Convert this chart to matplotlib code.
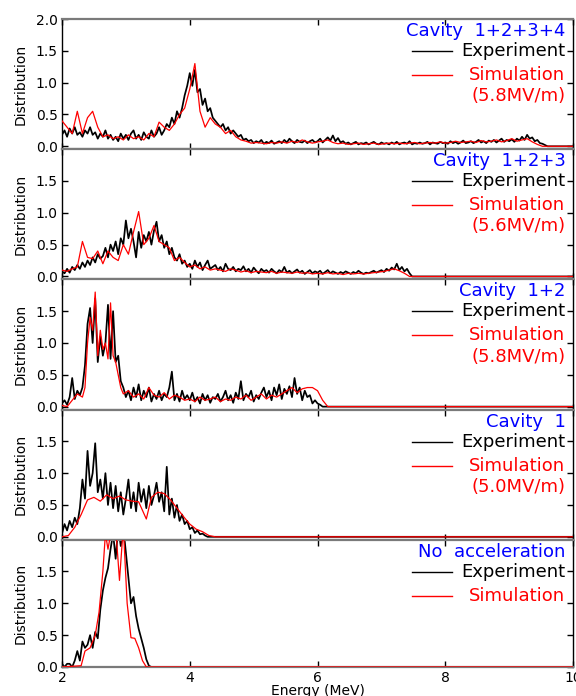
#! /usr/bin/env python3
# -*- coding: utf-8 -*-
"""
    energy spectra after each cavity: experiment vs simulation
"""
import numpy as np
import matplotlib
matplotlib.use("Agg")
import matplotlib.pyplot as plt

# experiment spectra, 0.04 MeV bins starting at 2.0 MeV
exp_start = 2.0
exp_step = 0.04

p1_exp = [0.18, 0.25, 0.15, 0.28, 0.20, 0.30, 0.18, 0.22, 0.15, 0.25,
          0.20, 0.30, 0.18, 0.22, 0.12, 0.20, 0.15, 0.25, 0.12, 0.18,
          0.10, 0.15, 0.08, 0.20, 0.12, 0.18, 0.10, 0.20, 0.25, 0.12,
          0.18, 0.10, 0.22, 0.15, 0.12, 0.25, 0.15, 0.20, 0.30, 0.18,
          0.25, 0.35, 0.30, 0.45, 0.35, 0.55, 0.45, 0.60, 0.80, 0.95,
          1.15, 0.95, 1.20, 0.85, 0.90, 0.65, 0.75, 0.55, 0.60, 0.45,
          0.40, 0.35, 0.30, 0.35, 0.25, 0.30, 0.20, 0.25, 0.20, 0.15,
          0.18, 0.10, 0.12, 0.08, 0.10, 0.05, 0.08, 0.06, 0.10, 0.04,
          0.07, 0.05, 0.09, 0.04, 0.06, 0.08, 0.05, 0.10, 0.06, 0.12,
          0.08, 0.05, 0.10, 0.07, 0.06, 0.09, 0.05, 0.08, 0.10, 0.06,
          0.08, 0.12, 0.06, 0.10, 0.14, 0.09, 0.17, 0.08, 0.13, 0.06,
          0.08, 0.04, 0.06, 0.03, 0.05, 0.07, 0.03, 0.05, 0.04, 0.06,
          0.03, 0.05, 0.07, 0.04, 0.03, 0.06, 0.04, 0.05, 0.03, 0.06,
          0.04, 0.07, 0.03, 0.05, 0.06, 0.04, 0.08, 0.03, 0.05, 0.04,
          0.06, 0.04, 0.05, 0.07, 0.03, 0.06, 0.05, 0.04, 0.07, 0.05,
          0.06, 0.04, 0.08, 0.05, 0.07, 0.04, 0.06, 0.09, 0.05, 0.06,
          0.08, 0.05, 0.07, 0.10, 0.06, 0.08, 0.05, 0.09, 0.07, 0.10,
          0.06, 0.09, 0.12, 0.07, 0.10, 0.08, 0.11, 0.07, 0.12, 0.09,
          0.15, 0.10, 0.18, 0.12, 0.14, 0.08, 0.10, 0.05, 0.04, 0.02]

p2_exp = [0.08, 0.05, 0.12, 0.06, 0.15, 0.10, 0.18, 0.12, 0.22, 0.15,
          0.25, 0.18, 0.30, 0.22, 0.35, 0.28, 0.32, 0.45, 0.30, 0.50,
          0.40, 0.55, 0.35, 0.60, 0.50, 0.88, 0.60, 0.75, 0.55, 0.30,
          0.70, 0.45, 0.65, 0.55, 0.70, 0.50, 0.72, 0.86, 0.55, 0.65,
          0.45, 0.55, 0.35, 0.45, 0.30, 0.25, 0.35, 0.20, 0.25, 0.15,
          0.20, 0.12, 0.25, 0.15, 0.22, 0.10, 0.18, 0.25, 0.12, 0.15,
          0.18, 0.10, 0.15, 0.08, 0.20, 0.12, 0.10, 0.15, 0.08, 0.12,
          0.10, 0.16, 0.08, 0.12, 0.06, 0.14, 0.09, 0.05, 0.12, 0.08,
          0.10, 0.06, 0.12, 0.08, 0.05, 0.10, 0.07, 0.15, 0.06, 0.09,
          0.05, 0.08, 0.11, 0.06, 0.09, 0.04, 0.07, 0.10, 0.05, 0.08,
          0.06, 0.09, 0.04, 0.07, 0.10, 0.05, 0.08, 0.06, 0.04, 0.07,
          0.05, 0.08, 0.06, 0.04, 0.07, 0.05, 0.09, 0.06, 0.04, 0.06,
          0.05, 0.07, 0.09, 0.06, 0.08, 0.10, 0.07, 0.12, 0.09, 0.14,
          0.11, 0.20, 0.10, 0.15, 0.08, 0.12, 0.05]

p3_exp = [0.05, 0.10, 0.03, 0.15, 0.45, 0.12, 0.25, 0.18, 0.30, 0.65,
          1.30, 1.55, 1.00, 1.70, 0.70, 1.10, 0.80, 1.00, 1.60, 0.75,
          1.50, 0.70, 0.80, 0.40, 0.30, 0.15, 0.25, 0.10, 0.30, 0.15,
          0.35, 0.10, 0.25, 0.15, 0.30, 0.08, 0.20, 0.12, 0.25, 0.10,
          0.20, 0.15, 0.30, 0.55, 0.10, 0.20, 0.08, 0.25, 0.12, 0.18,
          0.10, 0.22, 0.08, 0.15, 0.05, 0.20, 0.10, 0.18, 0.06, 0.15,
          0.12, 0.20, 0.08, 0.15, 0.25, 0.10, 0.18, 0.06, 0.22, 0.12,
          0.40, 0.10, 0.20, 0.15, 0.25, 0.08, 0.18, 0.12, 0.22, 0.30,
          0.15, 0.25, 0.10, 0.30, 0.18, 0.35, 0.12, 0.28, 0.20, 0.32,
          0.15, 0.45, 0.20, 0.30, 0.10, 0.25, 0.15, 0.18, 0.05, 0.10,
          0.05, 0.03]

p4_exp = [0.05, 0.20, 0.10, 0.25, 0.15, 0.30, 0.20, 0.45, 0.90, 0.60,
          1.35, 0.80, 1.00, 1.47, 0.70, 0.90, 0.60, 1.00, 0.50, 0.85,
          0.45, 0.80, 0.40, 0.70, 0.35, 0.60, 0.90, 0.45, 0.70, 0.40,
          0.85, 0.55, 0.75, 0.45, 0.80, 0.50, 0.65, 0.85, 0.55, 0.70,
          0.40, 1.10, 0.35, 0.60, 0.30, 0.50, 0.25, 0.35, 0.20, 0.25,
          0.12, 0.15, 0.06, 0.10, 0.04, 0.05, 0.02]

p5_exp = [0.05, 0.00, 0.05, 0.05, 0.00, 0.10, 0.25, 0.10, 0.40, 0.30,
          0.35, 0.50, 0.30, 0.55, 0.45, 0.90, 1.20, 1.40, 1.55, 1.85,
          2.10, 1.70, 2.20, 1.90, 2.20, 1.80, 1.40, 1.00, 1.10, 0.80,
          0.60, 0.45, 0.30, 0.12, 0.02]

# simulation spectra (energy, value)
p1_sim_e = list(np.round(np.arange(2.0, 9.53, 0.08), 2))
p1_sim = [0.40, 0.30, 0.20, 0.55, 0.20, 0.45, 0.55, 0.30, 0.15, 0.18,
          0.12, 0.15, 0.10, 0.18, 0.12, 0.15, 0.10, 0.20, 0.15, 0.38,
          0.30, 0.25, 0.35, 0.50, 0.60, 0.90, 1.30, 0.55, 0.30, 0.45,
          0.35, 0.30, 0.20, 0.25, 0.15, 0.10, 0.08, 0.05, 0.06, 0.05,
          0.04, 0.06, 0.05, 0.07, 0.05, 0.08, 0.06, 0.10, 0.07, 0.05,
          0.07, 0.08, 0.10, 0.06, 0.04, 0.05, 0.03, 0.04, 0.05, 0.03,
          0.04, 0.05, 0.03, 0.04, 0.05, 0.04, 0.05, 0.04, 0.05, 0.06,
          0.04, 0.05, 0.06, 0.05, 0.07, 0.05, 0.06, 0.08, 0.06, 0.07,
          0.08, 0.06, 0.09, 0.07, 0.08, 0.10, 0.07, 0.09, 0.12, 0.08,
          0.10, 0.12, 0.07, 0.03, 0.00]

p2_sim_e = list(np.round(np.arange(2.0, 7.45, 0.08), 2))
p2_sim = [0.10, 0.08, 0.12, 0.15, 0.55, 0.30, 0.28, 0.40, 0.20, 0.40,
          0.30, 0.25, 0.50, 0.35, 0.70, 1.02, 0.50, 0.60, 0.80, 0.55,
          0.50, 0.45, 0.25, 0.30, 0.22, 0.15, 0.18, 0.12, 0.15, 0.10,
          0.12, 0.10, 0.08, 0.12, 0.10, 0.07, 0.09, 0.06, 0.08, 0.07,
          0.06, 0.08, 0.05, 0.07, 0.06, 0.05, 0.07, 0.05, 0.06, 0.04,
          0.05, 0.04, 0.06, 0.04, 0.05, 0.03, 0.05, 0.04, 0.05, 0.04,
          0.05, 0.06, 0.07, 0.08, 0.10, 0.12, 0.09, 0.05, 0.00]

p3_sim_e = ([2.00, 2.08, 2.16, 2.24, 2.32, 2.36, 2.40, 2.44, 2.48, 2.52,
             2.56, 2.60, 2.64, 2.68, 2.72, 2.76, 2.80, 2.84, 2.88, 2.92, 2.96]
            + list(np.round(np.arange(3.04, 6.01, 0.08), 2)) + [6.08, 6.16])
p3_sim = [0.02, 0.00, 0.10, 0.20, 0.15, 0.30, 1.00, 1.40, 1.20, 1.80,
          0.80, 1.20, 0.90, 1.00, 0.75, 1.63, 0.80, 0.70, 0.50, 0.30, 0.20,
          0.25, 0.15, 0.20, 0.12, 0.30, 0.18, 0.15, 0.22, 0.12, 0.18,
          0.15, 0.10, 0.12, 0.08, 0.15, 0.10, 0.12, 0.15, 0.08, 0.12,
          0.10, 0.15, 0.12, 0.18, 0.10, 0.15, 0.20, 0.12, 0.18, 0.15,
          0.20, 0.25, 0.30, 0.22, 0.28, 0.30, 0.30, 0.25,
          0.10, 0.00]

p4_sim_e = [2.0, 2.1, 2.2, 2.3, 2.4, 2.5, 2.6, 2.7, 2.8, 2.9, 3.0, 3.1,
            3.2, 3.32, 3.4, 3.5, 3.6, 3.7, 3.8, 3.9, 4.0, 4.1, 4.2, 4.3, 4.4]
p4_sim = [0.00, 0.02, 0.15, 0.35, 0.58, 0.62, 0.56, 0.66, 0.60, 0.64,
          0.58, 0.56, 0.55, 0.28, 0.62, 0.70, 0.68, 0.58, 0.45, 0.32,
          0.20, 0.12, 0.08, 0.02, 0.00]

p5_sim_e = [2.00, 2.30, 2.36, 2.44, 2.52, 2.58, 2.64, 2.68, 2.72, 2.78,
            2.84, 2.90, 2.96, 3.02, 3.08, 3.14, 3.20, 3.26, 3.32, 3.40]
p5_sim = [0.00, 0.02, 0.25, 0.30, 0.50, 0.86, 1.50, 2.10, 1.85, 2.20,
          2.20, 1.36, 2.20, 1.00, 0.46, 0.45, 0.30, 0.10, 0.00, 0.00]

titles = ["Cavity  1+2+3+4", "Cavity  1+2+3", "Cavity  1+2", "Cavity  1",
          "No  acceleration"]
fields = ["(5.8MV/m)", "(5.6MV/m)", "(5.8MV/m)", "(5.0MV/m)", None]
exp_data = [p1_exp, p2_exp, p3_exp, p4_exp, p5_exp]
sim_data = [(p1_sim_e, p1_sim), (p2_sim_e, p2_sim), (p3_sim_e, p3_sim),
            (p4_sim_e, p4_sim), (p5_sim_e, p5_sim)]

BLUE = "#0000ff"
RED = "#ff0000"
GRAY = "#7a7a7a"

if __name__ == "__main__":
    plt.rcParams['font.family'] = ['DejaVu Sans']
    fig = plt.figure(figsize=(5.76, 6.96), dpi=100)
    gs = fig.add_gridspec(5, 1, height_ratios=[2.045] * 4 + [2.0], hspace=0,
                          left=0.1076, right=0.995, top=0.9727, bottom=0.0417)
    for i in range(5):
        ax = fig.add_subplot(gs[i])
        ev = np.asarray(exp_data[i])
        ee = exp_start + exp_step * np.arange(len(ev) + 1)
        ax.plot(np.append(ee, 10.0), np.append(ev, [0.0, 0.0]),
                color="black", lw=1.25, zorder=2)
        se, sv = sim_data[i]
        ax.plot(list(se) + [10.0], list(sv) + [0.0], color=RED, lw=0.9, zorder=3)

        ax.set_xlim(2, 10)
        ax.set_ylim(0 if i == 4 else -0.045, 2.0)
        ax.set_xticks([2, 4, 6, 8, 10])
        ax.set_yticks([0, 0.5, 1.0, 1.5, 2.0] if i == 0 else [0, 0.5, 1.0, 1.5])
        ax.yaxis.set_major_formatter(plt.FormatStrFormatter('%.1f'))
        ax.tick_params(direction='in', top=True, right=True, length=4,
                       width=1, labelsize=10, pad=3)
        if i < 4:
            ax.tick_params(labelbottom=False)
        for s in ("top", "bottom"):
            ax.spines[s].set_color(GRAY)
            ax.spines[s].set_linewidth(1.6)
        for s in ("left", "right"):
            ax.spines[s].set_linewidth(1.0)
        ax.set_ylabel("Distribution", fontsize=10, labelpad=6)

        # legend drawn as text, right side
        h = 2.045 if i < 4 else 2.0
        def yo(px):
            return 1 - px / (63.5 * h)
        ax.text(0.985, yo(12), titles[i], transform=ax.transAxes, ha="right",
                va="center", color=BLUE, fontsize=13)
        ax.plot([0.685, 0.763], [yo(32), yo(32)], transform=ax.transAxes,
                color="black", lw=1.0)
        ax.text(0.985, yo(32), "Experiment", transform=ax.transAxes, ha="right",
                va="center", color="black", fontsize=13)
        ax.plot([0.685, 0.763], [yo(56), yo(56)], transform=ax.transAxes,
                color=RED, lw=1.0)
        ax.text(0.985, yo(56), "Simulation", transform=ax.transAxes, ha="right",
                va="center", color=RED, fontsize=13)
        if fields[i]:
            ax.text(0.985, yo(77), fields[i], transform=ax.transAxes,
                    ha="right", va="center", color=RED, fontsize=13)
        if i == 4:
            ax.set_xlabel("Energy (MeV)", fontsize=10, labelpad=-1)

    fig.savefig("out.png", dpi=100)
